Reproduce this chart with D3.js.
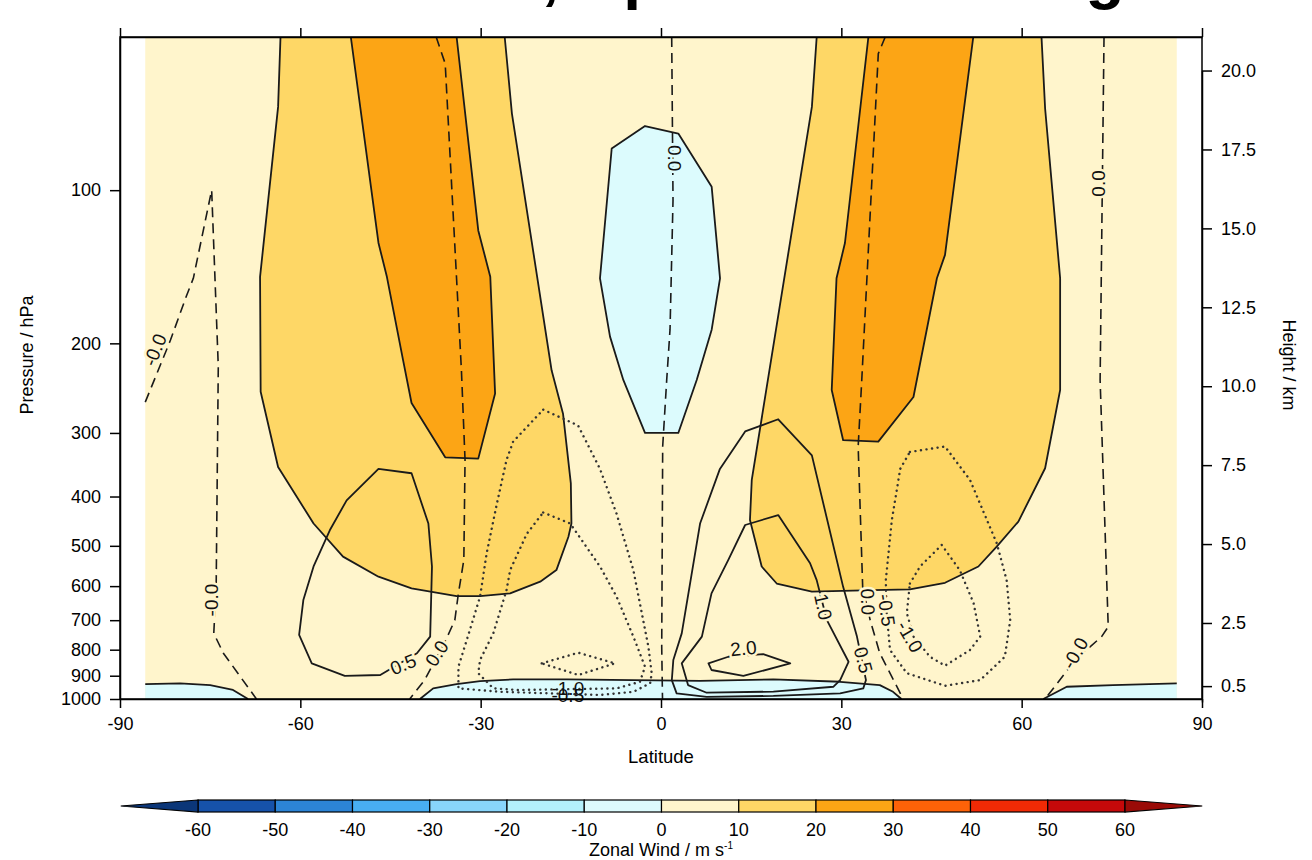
<!DOCTYPE html>
<html><head><meta charset="utf-8">
<script src="https://cdn.jsdelivr.net/npm/d3@7"></script>
<style>
html,body{margin:0;padding:0;background:#fff;}
svg{display:block;font-family:"Liberation Sans",Arial,Helvetica,sans-serif;}
</style></head>
<body>
<svg id="chart" width="1312" height="860"></svg>
<script>
// ---------------- data (lat in degrees, pressure in hPa) ----------------
const latTicks = [-90, -60, -30, 0, 30, 60, 90];
const presTicks = [100, 200, 300, 400, 500, 600, 700, 800, 900, 1000];
const heightTicks = [0.5, 2.5, 5.0, 7.5, 10.0, 12.5, 15.0, 17.5, 20.0];
const levels = [-60, -50, -40, -30, -20, -10, 0, 10, 20, 30, 40, 50, 60];
const levelColors = ["#0b3678", "#1652aa", "#2c84d6", "#48aef2", "#88d5fb", "#b3f1fc", "#dcfbfd",
                     "#fff5cc", "#fed766", "#fca515", "#fd6208", "#f12a05", "#c5090a", "#9a0b07"];
const latDomain = [-85.8, 85.8];
const presDomain = [1000, 50];

// zonal wind filled regions (open contour lines, closed along domain edge)
const u10Left = [[-63.3,50],[-63.7,68.6],[-66.7,148],[-66.6,249],[-63.7,350],[-57.8,452],[-52.9,525],[-47.0,575],[-41.5,606],[-34.0,628],[-30.1,628],[-25.1,620],[-20.1,588],[-17.4,558],[-15.4,480],[-14.9,452],[-15.0,377],[-16.3,275],[-18.2,226],[-24.8,70.7],[-26.0,50]];
const u20Left = [[-51.6,50],[-47.0,127],[-45.6,148],[-42.9,216],[-41.5,262],[-35.9,335],[-30.4,337],[-27.6,251],[-28.4,148],[-30.4,120],[-34.0,50]];
const u10Right = [[25.9,50],[25.1,68.6],[15.1,371],[14.8,445],[16.75,549],[19.25,593],[25.1,615],[35.3,611],[41.4,609],[47.25,591],[52.8,549],[55.85,502],[59.45,448],[63.9,352],[66.4,247],[66.4,149],[63.9,69.1],[63.3,50]];
const u20Right = [[34.5,50],[30.6,127],[29.2,149],[28.4,247],[30.3,310],[36.15,312],[42.0,255],[45.9,149],[47.25,134],[51.95,50]];
const uNegCenter = [[-2.66,74.8],[2.88,77.4],[8.43,98.5],[9.82,149],[8.43,188],[5.94,236],[2.88,300],[-2.66,300],[-6.27,236],[-8.48,194],[-10.15,149],[-8.2,82.8]];
const uNegSfcLeft = [[-85.8,935],[-80.0,932],[-75.0,939],[-71.2,960],[-68.7,1000]];
const uNegSfcCenter = [[-40.1,1000],[-37.9,953],[-34.0,935],[-30.1,922],[-24.6,915],[-15.7,915],[-4.6,918],[6.5,921],[18.7,915],[29.8,925],[36.4,939],[38.6,968],[40.0,1000]];
const uNegSfcRight = [[63.6,1000],[67.5,946],[75.2,939],[85.8,932]];

// streamfunction contour lines
const psiZero1 = [[-85.8,261],[-81.6,197],[-79.0,162],[-77.8,149],[-74.75,100],[-73.65,222],[-74.0,601],[-74.4,743],[-72.8,813],[-67.3,1000]];
const psiZero2 = [[-37.4,50],[-35.9,56.4],[-33.2,226],[-32.6,339],[-32.8,533],[-33.7,620],[-34.3,700],[-35.8,766],[-39.3,917],[-41.8,1000]];
const psiZero3 = [[1.78,50],[2.0,104.6],[1.5,188],[0.95,236],[0.28,319],[0.12,789],[0.25,1000]];
const psiZero4 = [[37.3,50],[36.15,53.9],[33.4,236],[32.8,319],[33.55,602],[34.8,700],[36.4,813],[40.3,1000]];
const psiZero5 = [[73.7,50],[73.05,236],[74.4,721],[73.3,754],[68.9,838],[63.9,1000]];
const psiPos05Left = [[-47.0,353],[-41.5,360],[-38.7,452],[-38.1,549],[-38.4,754],[-40.6,813],[-46.7,897],[-52.6,901],[-58.1,851],[-60.2,748],[-59.5,639],[-57.8,549],[-55.1,466],[-52.3,407]];
const psiPos05Right = [[19.5,282],[25.1,332],[30.3,602],[32.6,754],[34.1,918],[33.65,953],[29.8,975],[18.7,986],[7.6,990],[2.6,975],[1.8,918],[2.05,838],[3.45,743],[6.5,452],[9.8,353],[14.0,298]];
const psiPos10Right = [[14.0,455],[19.5,435],[24.8,541],[25.9,584],[27.6,700],[31.2,845],[29.8,918],[28.7,946],[18.7,967],[7.6,972],[4.5,939],[3.45,851],[6.8,754],[8.4,620],[11.2,533]];
const psiPos20Right = [[7.9,851],[11.2,826],[17.0,816],[21.5,851],[13.7,901],[8.4,877]];
const psiNeg05Left = [[-19.6,270],[-13.8,290],[-10.15,353],[-7.4,432],[-4.6,558],[-2.1,789],[-1.55,890],[-1.8,931],[-4.6,968],[-10.15,982],[-26.8,968],[-33.7,953],[-33.7,864],[-31.8,732],[-30.1,629],[-29.0,517],[-27.3,413],[-25.7,339],[-24.6,312]];
const psiNeg10Left = [[-19.6,430],[-15.1,452],[-10.15,549],[-7.4,629],[-4.6,754],[-2.66,864],[-3.5,925],[-7.4,953],[-24.0,960],[-27.9,953],[-30.4,890],[-30.1,838],[-27.9,743],[-25.7,611],[-25.1,558],[-22.3,473]];
const psiNeg20Left = [[-19.85,851],[-13.75,811],[-7.65,851],[-13.75,897]];
const psiNeg05Right = [[41.4,327],[47.25,319],[51.4,371],[55.85,494],[57.5,584],[58.1,700],[57.2,826],[53.1,918],[47.25,942],[40.9,890],[38.1,801],[37.5,669],[37.4,584],[38.4,445],[39.8,353]];
const psiNeg10Right = [[41.4,593],[43.1,549],[46.7,498],[49.7,558],[52.0,648],[53.1,754],[51.4,801],[47.25,860],[44.75,826],[42.0,754],[40.9,678]];

// contour labels: text, lat, pressure, angle, background wind band
const contourLabels = [
  ["-0.0", -84.2, 206, -68, 5],
  ["-0.0", -74.8, 639, -90, 5],
  ["0.0", -37.3, 813, -57, 5],
  ["0.5", -42.9, 855, -22, 5],
  ["0.0", 2.33, 86.5, 90, -5],
  ["0.0", 72.7, 97, -90, 5],
  ["-0.0", 68.9, 813, -60, 5],
  ["0.0", 34.4, 644, 88, 5],
  ["-0.5", 37.5, 669, 82, 5],
  ["-1.0", 41.4, 754, 60, 5],
  ["1.0", 27.0, 659, 78, 5],
  ["0.5", 33.65, 838, 75, 5],
  ["2.0", 13.7, 795, -6, 5],
  ["-1.0", -15.5, 953, 0, null],
  ["-0.5", -15.5, 982, 0, null]
];

const titleText = "Zonal Wind, Uplift and Heating";
const xTitle = "Latitude";
const yTitle = "Pressure / hPa";
const y2Title = "Height / km";

// ---------------- drawing ----------------
const svg = d3.select("#chart");
const x = d3.scaleLinear().domain([-90, 90]).range([120, 1202]);
const y = d3.scaleLog().domain([1000, 50]).range([699, 37]);
const scaleHeightKm = 7, p0 = 1013.25;
const h = d3.scaleLinear().domain([0, 20]).range([y(p0), y(p0 * Math.exp(-20 / scaleHeightKm))]);
const colorOf = d3.scaleThreshold().domain(levels).range(levelColors);

const line = d3.line().x(d => x(d[0])).y(d => y(d[1]));
const closed = d3.line().x(d => x(d[0])).y(d => y(d[1])).curve(d3.curveLinearClosed);

// title (cut off at top of the picture, as in the reference)
svg.append("text").attr("x", 661).attr("y", -3)
  .attr("text-anchor", "middle").attr("font-size", 64).attr("font-weight", "bold")
  .attr("fill", "#000").text(titleText);

const plot = svg.append("g");
plot.append("rect")
  .attr("x", x(latDomain[0])).attr("y", y(presDomain[1]))
  .attr("width", x(latDomain[1]) - x(latDomain[0]))
  .attr("height", y(presDomain[0]) - y(presDomain[1]))
  .attr("fill", colorOf(5));

const fills = [
  {pts: u10Left, v: 15}, {pts: u10Right, v: 15},
  {pts: u20Left, v: 25}, {pts: u20Right, v: 25},
  {pts: uNegCenter, v: -5},
  {pts: [[latDomain[0], 1000]].concat(uNegSfcLeft), v: -5},
  {pts: uNegSfcCenter, v: -5},
  {pts: uNegSfcRight.concat([[latDomain[1], 1000]]), v: -5}
];
plot.selectAll("path.fill").data(fills).enter().append("path")
  .attr("class", "fill").attr("d", d => closed(d.pts)).attr("fill", d => colorOf(d.v));

const lineStyle = {stroke: "#1a1a1a", "stroke-width": 1.8, fill: "none", "stroke-linejoin": "round"};
function styled(sel, extra) {
  Object.entries(lineStyle).forEach(([k, v]) => sel.attr(k, v));
  if (extra) Object.entries(extra).forEach(([k, v]) => sel.attr(k, v));
  return sel;
}
[u10Left, u20Left, u10Right, u20Right, uNegSfcLeft, uNegSfcCenter, uNegSfcRight].forEach(pts =>
  styled(plot.append("path").attr("d", line(pts))));
styled(plot.append("path").attr("d", closed(uNegCenter)));

[psiZero1, psiZero2, psiZero3, psiZero4, psiZero5].forEach(pts =>
  styled(plot.append("path").attr("d", line(pts)), {"stroke-dasharray": "10,6", "stroke-width": 1.6}));
[psiPos05Left, psiPos05Right, psiPos10Right, psiPos20Right].forEach(pts =>
  styled(plot.append("path").attr("d", closed(pts))));
[psiNeg05Left, psiNeg10Left, psiNeg20Left, psiNeg05Right, psiNeg10Right].forEach(pts =>
  styled(plot.append("path").attr("d", closed(pts)),
    {"stroke-dasharray": "0.1,5.5", "stroke-linecap": "round", "stroke-width": 2.4, stroke: "#333"}));

plot.selectAll("text.clab").data(contourLabels).enter().append("text")
  .attr("class", "clab")
  .attr("transform", d => `translate(${x(d[1])},${y(d[2])}) rotate(${d[3]})`)
  .attr("text-anchor", "middle").attr("dy", "0.35em")
  .attr("font-size", 19).attr("fill", "#111")
  .attr("stroke", d => d[4] === null ? "none" : colorOf(d[4]))
  .attr("stroke-width", 5).attr("paint-order", "stroke")
  .text(d => d[0]);

// axes
const axStyle = g => {
  g.selectAll("path.domain").attr("stroke", "#000").attr("stroke-width", 1.5);
  g.selectAll(".tick line").attr("stroke", "#000").attr("stroke-width", 1.5);
  g.selectAll(".tick text").attr("font-size", 18).attr("fill", "#000")
    .attr("font-family", "Liberation Sans, Arial, sans-serif");
};
const plain = d => String(d);
svg.append("g").attr("transform", "translate(0,699)")
  .call(d3.axisBottom(x).tickValues(latTicks).tickSize(9).tickSizeOuter(0).tickPadding(9).tickFormat(plain))
  .call(axStyle);
svg.append("g").attr("transform", "translate(0,37)")
  .call(d3.axisTop(x).tickValues(latTicks).tickSize(9).tickSizeOuter(0).tickFormat(""))
  .call(axStyle);
svg.append("g").attr("transform", "translate(120,0)")
  .call(d3.axisLeft(y).tickValues(presTicks).tickSize(10).tickSizeOuter(0).tickPadding(9).tickFormat(plain))
  .call(axStyle);
svg.append("g").attr("transform", "translate(1202,0)")
  .call(d3.axisRight(h).tickValues(heightTicks).tickSize(10).tickSizeOuter(0).tickPadding(9).tickFormat(d3.format(".1f")))
  .call(axStyle);
svg.append("rect").attr("x", 120).attr("y", 37).attr("width", 1082).attr("height", 662)
  .attr("fill", "none").attr("stroke", "#000").attr("stroke-width", 1.5);

svg.append("text").attr("x", 661).attr("y", 763).attr("text-anchor", "middle")
  .attr("font-size", 18.5).text(xTitle);
svg.append("text").attr("transform", "translate(33,355) rotate(-90)").attr("text-anchor", "middle")
  .attr("font-size", 18).text(yTitle);
svg.append("text").attr("transform", "translate(1283,365) rotate(90)").attr("text-anchor", "middle")
  .attr("font-size", 18).text(y2Title);

// colorbar
const cb = d3.scaleLinear().domain([-60, 60]).range([198, 1125]);
const cbTop = 800, cbH = 12;
const cbg = svg.append("g");
const boxes = levels.slice(0, -1);
cbg.selectAll("rect.cb").data(boxes).enter().append("rect")
  .attr("x", d => cb(d)).attr("y", cbTop).attr("width", d => cb(d + 10) - cb(d)).attr("height", cbH)
  .attr("fill", d => colorOf(d + 5)).attr("stroke", "#000").attr("stroke-width", 1.2);
const tri = (v0, v1, c) => cbg.append("path")
  .attr("d", `M${cb(v0)},${cbTop}L${cb(v1)},${cbTop + cbH / 2}L${cb(v0)},${cbTop + cbH}Z`)
  .attr("fill", c).attr("stroke", "#000").attr("stroke-width", 1.2);
tri(-60, -70, colorOf(-65));
tri(60, 70, colorOf(65));
cbg.selectAll("text.cbl").data(levels).enter().append("text")
  .attr("x", d => cb(d)).attr("y", 836).attr("text-anchor", "middle")
  .attr("font-size", 18).text(d => String(d));
const cbt = cbg.append("text").attr("x", 661).attr("y", 856).attr("text-anchor", "middle").attr("font-size", 18);
cbt.append("tspan").text("Zonal Wind / m s");
cbt.append("tspan").attr("font-size", 10).attr("dy", -7).text("-1");
</script>
</body></html>
